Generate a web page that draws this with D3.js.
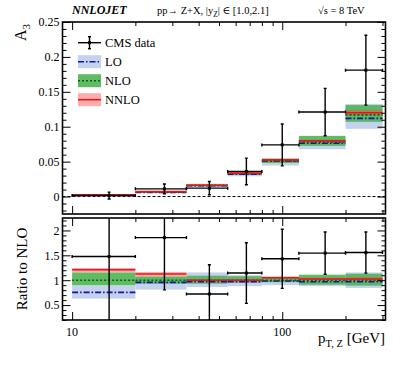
<!DOCTYPE html>
<html>
<head>
<meta charset="utf-8">
<script src="https://cdn.jsdelivr.net/npm/d3@7"></script>
<style>
  body { margin: 0; background: #fff; }
  text { font-family: "Liberation Serif", "DejaVu Serif", serif; fill: #000; }
</style>
</head>
<body>
<script>
const width = 407, height = 365;

// bin edges in pT,Z [GeV]
const binEdges = [10, 20, 35, 55, 80, 120, 200, 300];
const binMid = [15, 27.5, 45, 67.5, 100, 160, 250];

// top panel: A3
const dataVal = [0.0014, 0.011, 0.012, 0.036, 0.074, 0.121, 0.181];
const dataErr = [0.005, 0.007, 0.0095, 0.019, 0.030, 0.034, 0.050];

const loVal  = [0.0016, 0.0059, 0.0155, 0.0320, 0.0510, 0.0764, 0.1120];
const loLow  = [0.0011, 0.0050, 0.0138, 0.0290, 0.0444, 0.0678, 0.0970];
const loHigh = [0.0020, 0.0067, 0.0185, 0.0355, 0.0530, 0.0826, 0.1327];

const nloVal  = [0.0021, 0.0062, 0.0160, 0.0330, 0.0505, 0.0780, 0.1170];
const nloLow  = [0.0015, 0.0055, 0.0148, 0.0310, 0.0480, 0.0726, 0.1070];
const nloHigh = [0.0027, 0.0070, 0.0175, 0.0360, 0.0545, 0.0869, 0.1310];

const nnloVal  = [0.0025, 0.0070, 0.0162, 0.0335, 0.0525, 0.0797, 0.1200];
const nnloLow  = [0.0022, 0.0066, 0.0156, 0.0327, 0.0513, 0.0783, 0.1170];
const nnloHigh = [0.0028, 0.0074, 0.0168, 0.0343, 0.0537, 0.0811, 0.1240];

// bottom panel: ratio to NLO
const rDataVal = [1.476, 1.856, 0.724, 1.144, 1.430, 1.544, 1.556];
const rDataErr = [1.40, 1.05, 0.586, 0.61, 0.594, 0.426, 0.414];

const rLoVal  = [0.756, 0.956, 0.970, 0.970, 0.984, 0.970, 0.970];
const rLoLow  = [0.630, 0.810, 0.864, 0.880, 0.900, 0.880, 0.844];
const rLoHigh = [0.890, 1.064, 1.156, 1.100, 1.040, 1.060, 1.156];

const rNloLow  = [0.896, 0.930, 0.930, 0.950, 0.960, 0.910, 0.890];
const rNloHigh = [1.156, 1.076, 1.090, 1.080, 1.070, 1.110, 1.130];

const rNnloVal  = [1.210, 1.124, 1.000, 1.000, 1.050, 1.024, 1.024];
const rNnloLow  = [1.160, 1.076, 0.980, 0.980, 1.030, 1.000, 0.990];
const rNnloHigh = [1.245, 1.164, 1.020, 1.020, 1.070, 1.050, 1.060];

const yTopMajor = [0, 0.05, 0.1, 0.15, 0.2, 0.25];
const yRatMajor = [0.5, 1, 1.5, 2];
const xMajor = [10, 100];
const xMinor = [20, 30, 40, 50, 60, 70, 80, 90, 200, 300];

const col = {
  loBand: "#c5d2ee", loLine: "#1414a8",
  nloBand: "#4fb453", nloLine: "#0e5e12",
  nnloBand: "#ff4848", nnloLine: "#e8141a"
};

const L = 62.5, R = 385.5;
const x = d3.scaleLog().domain([9, 310]).range([L, R]);
const yTop = d3.scaleLinear().domain([-0.025, 0.25]).range([214, 22]);
const yRat = d3.scaleLinear().domain([0.2, 2.25]).range([320, 218]);

const svg = d3.select("body").append("svg").attr("width", width).attr("height", height);

const bins = d3.range(binMid.length);

function clip(id, y) {
  svg.append("clipPath").attr("id", id).append("rect")
    .attr("x", L).attr("y", y.range()[1]).attr("width", R - L).attr("height", y.range()[0] - y.range()[1]);
}
clip("cTop", yTop);
clip("cRat", yRat);

function bands(g, y, low, high, fill, op) {
  g.selectAll(null).data(bins).enter().append("rect")
    .attr("x", i => x(binEdges[i])).attr("width", i => x(binEdges[i + 1]) - x(binEdges[i]))
    .attr("y", i => y(high[i])).attr("height", i => Math.max(1, y(low[i]) - y(high[i])))
    .attr("fill", fill).attr("opacity", op);
}
function lines(g, y, val, stroke, dash, w) {
  g.selectAll(null).data(bins).enter().append("line")
    .attr("x1", i => x(binEdges[i])).attr("x2", i => x(binEdges[i + 1]))
    .attr("y1", i => y(val[i])).attr("y2", i => y(val[i]))
    .attr("stroke", stroke).attr("stroke-width", w).attr("stroke-dasharray", dash);
}
function points(g, y, val, err) {
  const p = g.selectAll(null).data(bins).enter().append("g").attr("stroke", "#000").attr("stroke-width", 1.4);
  p.append("line").attr("x1", i => x(binEdges[i])).attr("x2", i => x(binEdges[i + 1]))
    .attr("y1", i => y(val[i])).attr("y2", i => y(val[i]));
  p.append("line").attr("x1", i => x(binMid[i])).attr("x2", i => x(binMid[i]))
    .attr("y1", i => y(val[i] - err[i])).attr("y2", i => y(val[i] + err[i]));
  // caps
  [-1, 1].forEach(s => {
    p.append("line").attr("x1", i => x(binMid[i]) - 1.5).attr("x2", i => x(binMid[i]) + 1.5)
      .attr("y1", i => y(val[i] + s * err[i])).attr("y2", i => y(val[i] + s * err[i]));
  });
  [0, 1].forEach(k => {
    p.append("line").attr("x1", i => x(binEdges[i + k])).attr("x2", i => x(binEdges[i + k]))
      .attr("y1", i => y(val[i]) - 1.5).attr("y2", i => y(val[i]) + 1.5);
  });
  p.append("rect").attr("x", i => x(binMid[i]) - 1.5).attr("y", i => y(val[i]) - 1.5)
    .attr("width", 3).attr("height", 3).attr("fill", "#000").attr("stroke", "none");
}

// ---- top panel
const gt = svg.append("g").attr("clip-path", "url(#cTop)");
gt.append("line").attr("x1", L).attr("x2", R).attr("y1", yTop(0)).attr("y2", yTop(0))
  .attr("stroke", "#000").attr("stroke-width", 1).attr("stroke-dasharray", "3,2");
bands(gt, yTop, loLow, loHigh, col.loBand, 1);
bands(gt, yTop, nloLow, nloHigh, col.nloBand, 0.9);
bands(gt, yTop, nnloLow, nnloHigh, col.nnloBand, 0.45);
lines(gt, yTop, loVal, col.loLine, "6,2,1.5,2", 1.6);
lines(gt, yTop, nloVal, col.nloLine, "2,2", 1.6);
lines(gt, yTop, nnloVal, col.nnloLine, null, 1.6);
points(gt, yTop, dataVal, dataErr);

// ---- ratio panel
const gr = svg.append("g").attr("clip-path", "url(#cRat)");
bands(gr, yRat, rLoLow, rLoHigh, col.loBand, 1);
bands(gr, yRat, rNloLow, rNloHigh, col.nloBand, 0.9);
bands(gr, yRat, rNnloLow, rNnloHigh, col.nnloBand, 0.45);
lines(gr, yRat, rLoVal, col.loLine, "6,2,1.5,2", 1.6);
lines(gr, yRat, bins.map(() => 1), col.nloLine, "2,2", 1.6);
lines(gr, yRat, rNnloVal, col.nnloLine, null, 1.6);
points(gr, yRat, rDataVal, rDataErr);

// ---- axes and frames
function frame(y, majors, minorStep, fmt) {
  const y0 = y.range()[0], y1 = y.range()[1];
  const [d0, d1] = y.domain();
  const minors = d3.range(Math.ceil(d0 / minorStep) * minorStep, d1 + 1e-9, minorStep)
    .filter(v => !majors.some(m => Math.abs(m - v) < 1e-9));
  const ax = (axis, tr, vals, size, labels) => {
    const g = svg.append("g").attr("transform", tr)
      .call(axis.tickValues(vals).tickSize(-size).tickPadding(3)
        .tickFormat(labels ? labels : ""));
    g.select(".domain").remove();
    g.selectAll("line").attr("stroke", "#000").attr("stroke-width", 1);
    g.selectAll("text").attr("font-size", 12).attr("font-family", "Liberation Serif");
    return g;
  };
  ax(d3.axisLeft(y), `translate(${L},0)`, majors, 8, fmt);
  ax(d3.axisLeft(y), `translate(${L},0)`, minors, 4, null);
  ax(d3.axisRight(y), `translate(${R},0)`, majors, 8, null);
  ax(d3.axisRight(y), `translate(${R},0)`, minors, 4, null);
  ax(d3.axisBottom(x), `translate(0,${y0})`, xMajor, 8, null);
  ax(d3.axisBottom(x), `translate(0,${y0})`, xMinor, 4, null);
  ax(d3.axisTop(x), `translate(0,${y1})`, xMajor, 8, null);
  ax(d3.axisTop(x), `translate(0,${y1})`, xMinor, 4, null);
  svg.append("rect").attr("x", L).attr("y", y1).attr("width", R - L).attr("height", y0 - y1)
    .attr("fill", "none").attr("stroke", "#000").attr("stroke-width", 1.6);
}
frame(yTop, yTopMajor, 0.01, d => d === 0 ? "0" : String(d));
frame(yRat, yRatMajor, 0.1, d => String(d));

// x tick labels
svg.append("g").selectAll("text").data(xMajor).enter().append("text")
  .attr("x", d => x(d)).attr("y", 336).attr("text-anchor", "middle").attr("font-size", 12)
  .text(d => d);

// axis titles
svg.append("text").attr("transform", "translate(26,24) rotate(-90)").attr("text-anchor", "end")
  .attr("font-size", 16).html('A<tspan font-size="11" dy="4">3</tspan>');
svg.append("text").attr("transform", "translate(27,269) rotate(-90)").attr("text-anchor", "middle")
  .attr("font-size", 15).text("Ratio to NLO");
svg.append("text").attr("x", 385).attr("y", 343).attr("text-anchor", "end").attr("font-size", 15)
  .html('p<tspan font-size="10.5" dy="4">T, Z</tspan><tspan dy="-4"> [GeV]</tspan>');

// header
svg.append("text").attr("x", 72).attr("y", 14).attr("font-size", 12)
  .attr("font-weight", "bold").attr("font-style", "italic").text("NNLOJET");
svg.append("text").attr("x", 157).attr("y", 14).attr("font-size", 10.5)
  .html('pp\u2192 Z+X,  |y<tspan font-size="7.5" dy="3">Z</tspan><tspan dy="-3">| \u2208 [1.0,2.1]</tspan>');
svg.append("text").attr("x", 318).attr("y", 14).attr("font-size", 10.5).text("\u221As = 8 TeV");

// legend
const lg = svg.append("g");
const lx0 = 78, lx1 = 101;
const ly = [42.7, 61.7, 80.7, 99.7];
lg.append("line").attr("x1", lx0).attr("x2", lx1).attr("y1", ly[0]).attr("y2", ly[0]).attr("stroke", "#000").attr("stroke-width", 1.4);
lg.append("line").attr("x1", 89.5).attr("x2", 89.5).attr("y1", ly[0] - 6).attr("y2", ly[0] + 6).attr("stroke", "#000").attr("stroke-width", 1.4);
[-6, 6].forEach(d => lg.append("line").attr("x1", 88).attr("x2", 91).attr("y1", ly[0] + d).attr("y2", ly[0] + d).attr("stroke", "#000").attr("stroke-width", 1.4));
lg.append("rect").attr("x", 88).attr("y", ly[0] - 1.5).attr("width", 3).attr("height", 3).attr("fill", "#000");
const legItems = [
  { band: col.loBand, op: 1, line: col.loLine, dash: "6,2,1.5,2" },
  { band: col.nloBand, op: 0.9, line: col.nloLine, dash: "2,2" },
  { band: col.nnloBand, op: 0.45, line: col.nnloLine, dash: null }
];
legItems.forEach((it, k) => {
  const yy = ly[k + 1];
  lg.append("rect").attr("x", lx0).attr("y", yy - 6.5).attr("width", lx1 - lx0).attr("height", 13)
    .attr("fill", it.band).attr("opacity", it.op);
  lg.append("line").attr("x1", lx0).attr("x2", lx1).attr("y1", yy).attr("y2", yy)
    .attr("stroke", it.line).attr("stroke-width", 1.6).attr("stroke-dasharray", it.dash);
});
["CMS data", "LO", "NLO", "NNLO"].forEach((t, k) => {
  lg.append("text").attr("x", 105).attr("y", ly[k] + 4.5).attr("font-size", 12.5).text(t);
});
</script>
</body>
</html>
